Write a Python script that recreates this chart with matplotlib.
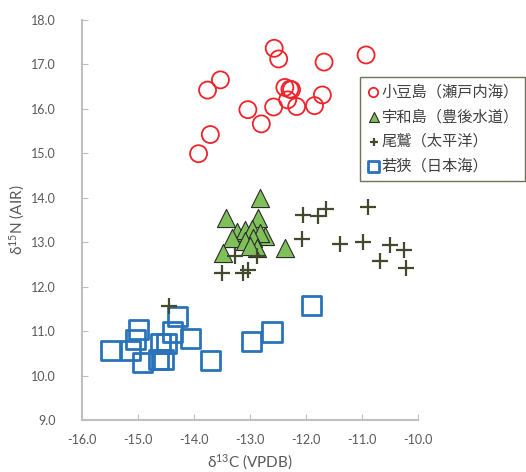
import matplotlib.pyplot as plt

plt.rcParams['font.family'] = ['Lato', 'Open Sans', 'Noto Sans CJK JP', 'DejaVu Sans']
plt.rcParams['mathtext.fontset'] = 'custom'
plt.rcParams['mathtext.rm'] = 'Lato'
plt.rcParams['mathtext.it'] = 'Lato:italic'

# 小豆島（瀬戸内海）
shodo_x = [-12.57, -12.49, -11.68, -10.93, -13.53, -13.76, -12.38, -12.29, -12.26, -12.33,
           -11.71, -13.04, -12.58, -12.17, -11.85, -12.80, -13.71, -13.92]
shodo_y = [17.36, 17.12, 17.05, 17.21, 16.65, 16.42, 16.48, 16.44, 16.43, 16.20,
           16.31, 15.98, 16.04, 16.05, 16.07, 15.66, 15.42, 14.99]
# 宇和島（豊後水道）
uwa_x = [-12.83, -13.43, -12.86, -13.24, -13.09, -12.97, -12.73, -12.82, -13.33, -12.94,
         -13.09, -12.88, -13.48, -12.38, -13.00]
uwa_y = [13.99, 13.54, 13.54, 13.24, 13.28, 13.30, 13.13, 13.21, 13.09, 13.09,
         13.02, 12.87, 12.76, 12.87, 12.92]
# 尾鷲（太平洋）
owase_x = [-12.06, -11.78, -11.64, -10.89, -12.08, -11.40, -10.98, -10.50, -10.25, -10.68,
           -10.22, -13.27, -12.88, -13.51, -13.12, -13.03, -14.44]
owase_y = [13.62, 13.58, 13.75, 13.79, 13.07, 12.97, 13.00, 12.93, 12.82, 12.57,
           12.42, 12.68, 12.68, 12.31, 12.31, 12.38, 11.57]
# 若狭（日本海）
wakasa_x = [-15.49, -15.13, -15.00, -15.04, -14.92, -14.60, -14.64, -14.55, -14.50, -14.39,
            -14.29, -14.07, -13.71, -12.98, -12.61, -11.91]
wakasa_y = [10.57, 10.57, 11.03, 10.82, 10.30, 10.73, 10.36, 10.36, 10.73, 10.98,
            11.33, 10.84, 10.34, 10.77, 10.98, 11.57]

fig = plt.figure(figsize=(5.26, 4.72), dpi=100)
ax = fig.add_axes([0.156, 0.110, 0.639, 0.848])

ax.scatter(shodo_x, shodo_y, s=150, facecolors='none', edgecolors='#f0232a', linewidths=1.3,
           label='小豆島（瀬戸内海）', zorder=3)
ax.scatter(uwa_x, uwa_y, s=170, marker='^', facecolors='#80c05a', edgecolors='#2b2b2b',
           linewidths=0.8, label='宇和島（豊後水道）', zorder=3)
ax.scatter(owase_x, owase_y, s=130, marker='+', color='#414a2c', linewidths=1.6,
           label='尾鷲（太平洋）', zorder=4)
ax.scatter(wakasa_x, wakasa_y, s=190, marker='s', facecolors='none', edgecolors='#2a73ba',
           linewidths=2.0, label='若狭（日本海）', zorder=3)

ax.set_xlim(-16, -10)
ax.set_ylim(9, 18)
ax.set_xticks([-16, -15, -14, -13, -12, -11, -10])
ax.set_yticks([9, 10, 11, 12, 13, 14, 15, 16, 17, 18])
ax.set_xticklabels(['%.1f' % v for v in ax.get_xticks()])
ax.set_yticklabels(['%.1f' % v for v in ax.get_yticks()])
ax.tick_params(direction='in', length=4, color='#bfbfbf', labelcolor='#595959', labelsize=9)
ax.tick_params(axis='y', pad=19)
ax.tick_params(axis='x', pad=10)
for s in ['top', 'right']:
    ax.spines[s].set_visible(False)
for s in ['left', 'bottom']:
    ax.spines[s].set_color('#bfbfbf')
    ax.spines[s].set_linewidth(1.5)

ax.set_xlabel(r'δ$^{13}$C (VPDB)', color='#595959', fontsize=11, labelpad=5)
ax.set_ylabel(r'δ$^{15}$N (AIR)', color='#595959', fontsize=11)
ax.yaxis.set_label_coords(-0.165, 0.5)

leg = fig.legend(loc='upper left', bbox_to_anchor=(0.684, 0.836), borderaxespad=0,
                 frameon=True, fancybox=False, borderpad=0.4, handletextpad=0.05,
                 handlelength=1.0, labelspacing=0.5, markerscale=0.55,
                 prop={'family': ['Noto Sans CJK JP'], 'size': 11})
leg.get_frame().set_edgecolor('#4a5030')
leg.get_frame().set_linewidth(1.0)
for t in leg.get_texts():
    t.set_color('#404040')

fig.savefig('out.png', dpi=100)
